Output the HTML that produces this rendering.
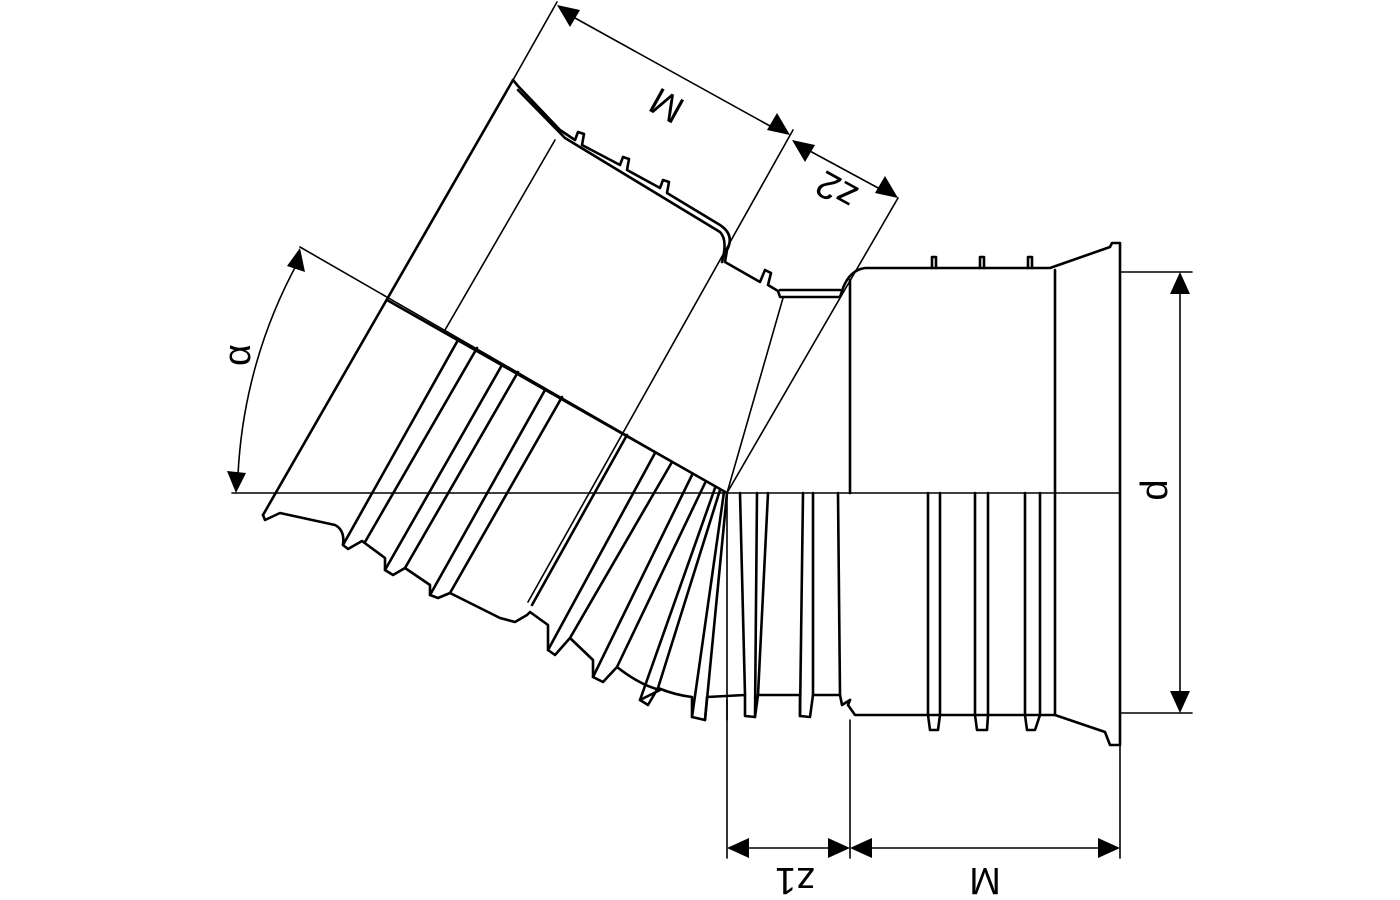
<!DOCTYPE html>
<html><head><style>html,body{margin:0;padding:0;background:#fff}svg{display:block}</style></head><body>
<svg width="1400" height="900" viewBox="0 0 1400 900" xmlns="http://www.w3.org/2000/svg">
<g fill="none" stroke="#000" stroke-linejoin="round" stroke-linecap="round">
<g stroke-width="1.6">
<line x1="232" y1="493" x2="1120" y2="493"/>
<line x1="300" y1="247" x2="727" y2="493"/>
<line x1="557" y1="2" x2="513" y2="80"/>
<line x1="793" y1="130" x2="528" y2="602"/>
<line x1="898" y1="198" x2="727" y2="493"/>
<line x1="555" y1="140" x2="445" y2="330"/>
<line x1="783" y1="298" x2="727" y2="493"/>
<line x1="1120" y1="272" x2="1192" y2="272"/>
<line x1="1120" y1="713" x2="1192" y2="713"/>
<line x1="1180" y1="290" x2="1180" y2="695"/>
<line x1="727" y1="700" x2="727" y2="858"/>
<line x1="850" y1="720" x2="850" y2="858"/>
<line x1="1120" y1="745" x2="1120" y2="858"/>
<line x1="745" y1="848" x2="832" y2="848"/>
<line x1="868" y1="848" x2="1102" y2="848"/>
<line x1="575" y1="18" x2="770" y2="126"/>
<line x1="808" y1="150" x2="880" y2="189"/>
<path d="M298 262 A492 492 0 0 0 238 475"/>
<line x1="727" y1="493" x2="727" y2="720"/>
</g>
<g stroke-width="2.6">
<path d="M513 80 L263 515"/>
<path d="M387 300 L727 493"/>
<path d="M513 80 L518 86 L560 130 L575 140 L578 132 L584 134 L582 145 L620 165 L623 157 L629 159 L627 170 L660 188 L663 180 L669 182 L667 193 L720 225 Q735 235 727 250 L725 262 L760 282 L765 270 L771 273 L768 285 L778 291 L780 297 L840 297 L843 288 Q850 270 865 268 L1050 268 L1110 247 L1112 243 L1120 243 L1120 745 L1110 745 L1105 732 L1055 715 L855 715 L848 705 L850 700"/>
<path d="M518 90 L565 138 L720 232 Q728 240 722 262"/>
<path d="M780 290 L840 290"/>
<path d="M850 280 L850 493"/>
<path d="M1055 270 L1055 715"/>
<path d="M932 268 L932 257 L936 257 L936 268 M980 268 L980 257 L984 257 L984 268 M1028 268 L1028 257 L1032 257 L1032 268"/>
<path d="M458 340 L343 545 M477 348 L365 542 M502 365 L385 570 M518 372 L405 568 M545 390 L430 595 M562 397 L450 593 M627 435 L532 605 M655 453 L548 650 M672 462 L570 638 M692 475 L593 677 M705 483 L617 667 M715 488 L640 700 M720 490 L658 688 M724 492 L692 717 M727 493 L705 720"/>
<path d="M263 515 L265 520 L280 513 L335 525 Q345 530 343 545 L348 549 L362 541 L385 558 L385 570 L393 575 L405 568 L430 585 L430 595 L438 598 L450 593 L500 618 L515 622 L527 615 L530 612 L548 625 L548 650 L555 655 L570 638 L593 660 L593 677 L603 682 L617 667 Q640 685 660 690 L640 700 L648 705 L658 688 Q675 695 692 697 L692 717 L705 720 L707 697 L745 695 L745 716 L755 717 L758 695 L800 695 L800 716 L810 717 L813 695 L840 695 L842 705 L850 700"/>
<path d="M740 493 L745 695 M757 493 L755 717 M768 493 L758 695 M803 493 L800 716 M813 493 L813 695 M838 493 L840 695"/>
<path d="M928 493 L928 715 L930 730 L938 730 L940 715 L940 493 M975 493 L975 715 L977 730 L987 730 L988 715 L988 493 M1025 493 L1025 715 L1027 730 L1035 730 L1040 715 L1040 493"/>
</g>
</g>
<g fill="#000">
<polygon points="1180,272 1170,294 1190,294"/>
<polygon points="1180,713 1170,691 1190,691"/>
<polygon points="727,848 749,838 749,858"/>
<polygon points="850,848 828,838 828,858"/>
<polygon points="850,848 872,838 872,858"/>
<polygon points="1120,848 1098,838 1098,858"/>
<polygon points="557,5 580,10 570,27"/>
<polygon points="790,135 767,130 777,113"/>
<polygon points="792,140 815,145 805,162"/>
<polygon points="898,198 875,193 885,176"/>
<polygon points="300,248 305,272 287,266"/>
<polygon points="236,493 227,471 246,473"/>
</g>
<g font-family="Liberation Sans, sans-serif" font-size="38" fill="#000" text-anchor="middle">
<text transform="translate(240,355) rotate(-90)" dominant-baseline="middle">α</text>
<text transform="translate(1157,490) rotate(-90)" dominant-baseline="middle">d</text>
<text transform="translate(795,878) rotate(180)" dominant-baseline="middle">z1</text>
<text transform="translate(985,878) rotate(180)" dominant-baseline="middle">M</text>
<text transform="translate(668,103) rotate(209)" dominant-baseline="middle">M</text>
<text transform="translate(838,188) rotate(209)" dominant-baseline="middle">z2</text>
</g>
</svg>
</body></html>
